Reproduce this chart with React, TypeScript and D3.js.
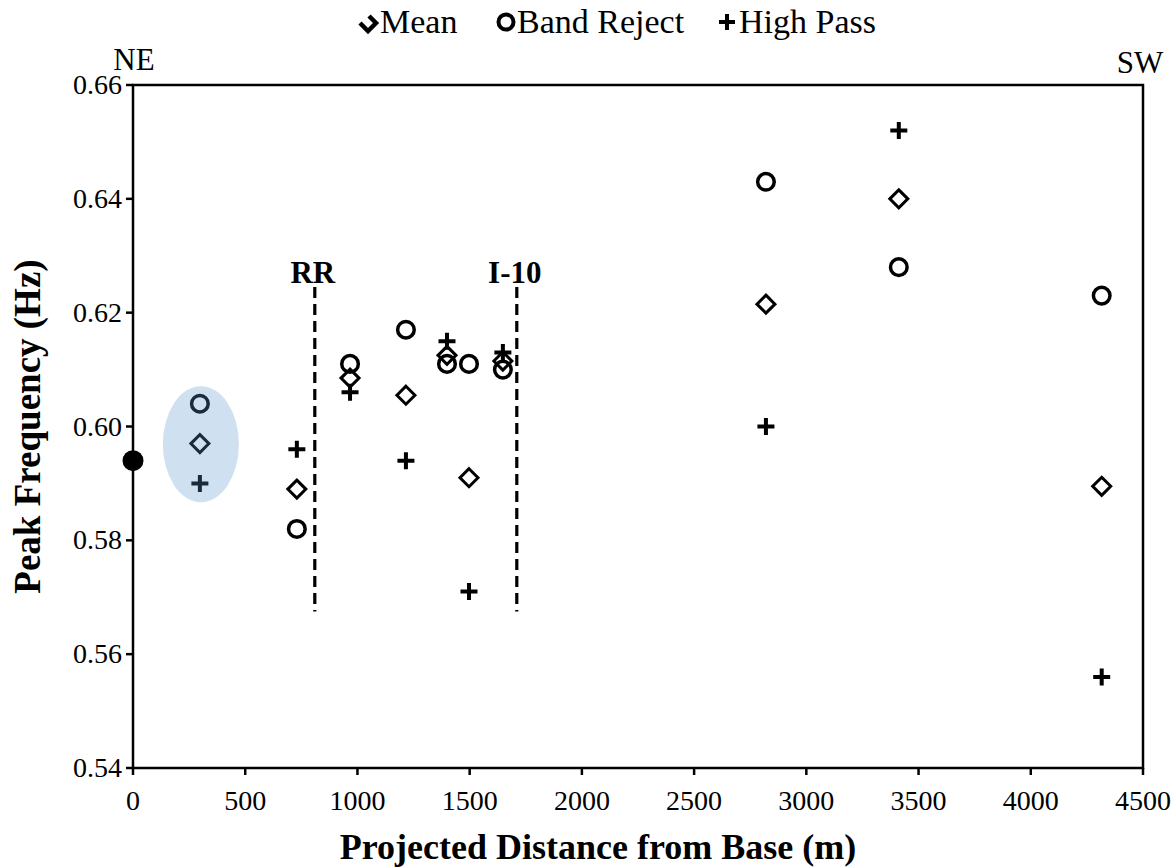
import React from "react";
import * as d3 from "d3";

const distances = [730, 967, 1216, 1399, 1497, 1648, 2820, 3412, 4316];
const meanValues = [0.589, 0.6085, 0.6055, 0.6125, 0.591, 0.6115, 0.6215, 0.64, 0.5895];
const bandRejectValues = [0.582, 0.611, 0.617, 0.611, 0.611, 0.61, 0.643, 0.628, 0.623];
const highPassValues = [0.596, 0.606, 0.594, 0.615, 0.571, 0.613, 0.6, 0.652, 0.556];

const basePoint = { x: 0, y: 0.594 };
const highlightDistance = 298;
const highlightMean = 0.597;
const highlightBand = 0.604;
const highlightHigh = 0.59;

const markerLines = [
  { label: "RR", x: 810, y0: 0.5675, y1: 0.6245 },
  { label: "I-10", x: 1710, y0: 0.5675, y1: 0.6245 },
];

const xTicks = [0, 500, 1000, 1500, 2000, 2500, 3000, 3500, 4000, 4500];
const yTicks = [0.54, 0.56, 0.58, 0.6, 0.62, 0.64, 0.66];

const W = 1176;
const H = 867;
const left = 133;
const right = 1143;
const top = 85;
const bottom = 768;

const FONT = "'Liberation Serif', 'Times New Roman', serif";

function Diamond({ x, y, color = "#000", s = 9, sw = 3 }: any) {
  return (
    <path
      d={`M${x},${y - s}L${x + s},${y}L${x},${y + s}L${x - s},${y}Z`}
      fill="none"
      stroke={color}
      strokeWidth={sw}
    />
  );
}
function Circ({ x, y, color = "#000", r = 8.3, sw = 3.5 }: any) {
  return <circle cx={x} cy={y} r={r} fill="none" stroke={color} strokeWidth={sw} />;
}
function Plus({ x, y, color = "#000", s = 8.5, sw = 4 }: any) {
  return (
    <path
      d={`M${x - s},${y}H${x + s}M${x},${y - s}V${y + s}`}
      stroke={color}
      strokeWidth={sw}
      fill="none"
    />
  );
}

export default function App() {
  const xs = d3.scaleLinear().domain([0, 4500]).range([left, right]);
  const ys = d3.scaleLinear().domain([0.54, 0.66]).range([bottom, top]);
  const navy = "#1b2a3c";

  return (
    <svg width={W} height={H} style={{ position: "absolute", left: 0, top: 0, background: "#fff" }}>
      {/* legend */}
      <g fontFamily={FONT} fontSize={34}>
        <path
          d="M360,23L368,31L376,23L369,16"
          fill="none"
          stroke="#000"
          strokeWidth={4.5}
        />
        <text x={380} y={33}>Mean</text>
        <Circ x={506} y={22} r={7.5} sw={4} />
        <text x={517} y={33}>Band Reject</text>
        <Plus x={727} y={22} s={8} sw={4} />
        <text x={739} y={33}>High Pass</text>
      </g>

      {/* highlight */}
      <ellipse cx={xs(highlightDistance) + 1} cy={ys(0.5969)} rx={38} ry={58} fill="#cfe0f1" />

      {/* frame */}
      <rect x={left} y={top} width={right - left} height={bottom - top} fill="none" stroke="#000" strokeWidth={2.5} />

      {/* y ticks */}
      {yTicks.map((t) => (
        <g key={t}>
          <line x1={left - 7} x2={left} y1={ys(t)} y2={ys(t)} stroke="#000" strokeWidth={2.5} />
          <text x={left - 11} y={ys(t) + 9} textAnchor="end" fontFamily={FONT} fontSize={28}>
            {t.toFixed(2)}
          </text>
        </g>
      ))}
      {/* x ticks */}
      {xTicks.map((t) => (
        <g key={t}>
          <line x1={xs(t)} x2={xs(t)} y1={bottom} y2={bottom + 7} stroke="#000" strokeWidth={2.5} />
          <text x={xs(t)} y={bottom + 42} textAnchor="middle" fontFamily={FONT} fontSize={28}>
            {t}
          </text>
        </g>
      ))}

      <text x={134} y={70} textAnchor="middle" fontFamily={FONT} fontSize={31}>NE</text>
      <text x={1140} y={73} textAnchor="middle" fontFamily={FONT} fontSize={31}>SW</text>

      {/* axis titles */}
      <text x={598} y={859} textAnchor="middle" fontFamily={FONT} fontSize={36} fontWeight="bold">
        Projected Distance from Base (m)
      </text>
      <text
        transform={`translate(40,${(top + bottom) / 2}) rotate(-90)`}
        textAnchor="middle"
        fontFamily={FONT}
        fontSize={37}
        fontWeight="bold"
      >
        Peak Frequency (Hz)
      </text>

      {/* dashed lines */}
      {markerLines.map((m) => (
        <g key={m.label}>
          <line
            x1={xs(m.x)}
            x2={xs(m.x)}
            y1={ys(m.y1)}
            y2={ys(m.y0)}
            stroke="#000"
            strokeWidth={3.2}
            strokeDasharray="11,6"
          />
          <text x={xs(m.x) - 2} y={ys(m.y1) - 4} textAnchor="middle" fontFamily={FONT} fontSize={31} fontWeight="bold">
            {m.label}
          </text>
        </g>
      ))}

      {/* base point */}
      <circle cx={xs(basePoint.x)} cy={ys(basePoint.y)} r={10.5} fill="#000" />

      {/* highlighted points */}
      <Circ x={xs(highlightDistance)} y={ys(highlightBand)} color={navy} />
      <Diamond x={xs(highlightDistance)} y={ys(highlightMean)} color={navy} />
      <Plus x={xs(highlightDistance)} y={ys(highlightHigh)} color={navy} />

      {/* series */}
      {distances.map((d, i) => (
        <g key={"p" + i}>
          <Plus x={xs(d)} y={ys(highPassValues[i])} />
        </g>
      ))}
      {distances.map((d, i) => (
        <g key={"c" + i}>
          <Circ x={xs(d)} y={ys(bandRejectValues[i])} />
        </g>
      ))}
      {distances.map((d, i) => (
        <g key={"d" + i}>
          <Diamond x={xs(d)} y={ys(meanValues[i])} />
        </g>
      ))}
    </svg>
  );
}
